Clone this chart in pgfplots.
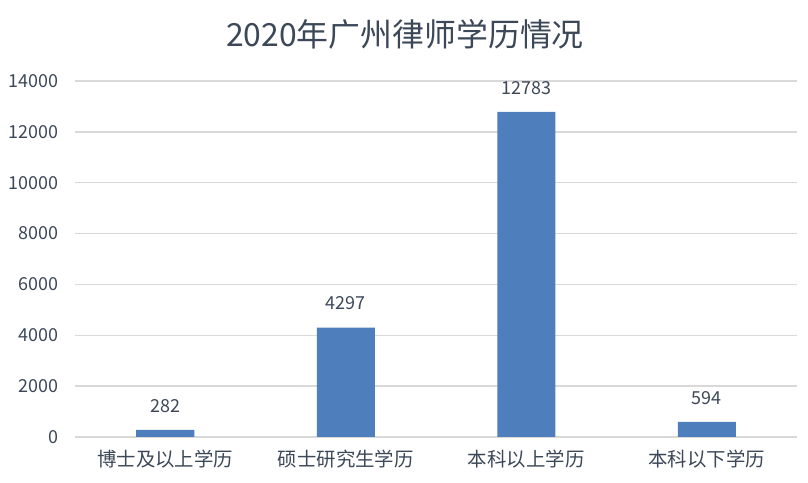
\documentclass[border=0pt]{standalone}
\usepackage{pgfplots}
\pgfplotsset{compat=1.18}
\usepackage{fontspec}
\setmainfont{Noto Sans CJK SC}
\definecolor{barblue}{HTML}{4E7EBB}
\definecolor{txt}{HTML}{3C4858}
\definecolor{gridgray}{HTML}{D9D9D9}
\begin{document}
\begin{tikzpicture}[x=1bp,y=1bp]
\useasboundingbox (-75bp,-46bp) rectangle (733bp,437bp);
\begin{axis}[
  at={(0,0)}, anchor=south west,
  scale only axis, width=722bp, height=356bp,
  ybar, bar width=58bp,
  xmin=-0.5, xmax=3.5, ymin=0, ymax=14000,
  xtick={0,1,2,3},
  xticklabels={博士及以上学历,硕士研究生学历,本科以上学历,本科以下学历},
  ytick={0,2000,...,14000},
  /pgf/number format/assume math mode=true,
  /pgf/number format/1000 sep={},
  scaled y ticks=false,
  ymajorgrids, major grid style={gridgray, line width=1.3pt},
  axis line style={draw=none},
  major tick length=0pt,
  tick label style={font=\fontsize{18}{20}\selectfont, text=txt},
  yticklabel style={xshift=-13bp},
  xticklabel style={yshift=-9bp, font=\fontsize{19.5}{22}\selectfont},
  nodes near coords,
  nodes near coords style={font=\fontsize{18}{20}\selectfont, text=txt, yshift=14bp},
  clip=false,
]
\addplot[fill=barblue, draw=none] coordinates {(0,282) (1,4297) (2,12783) (3,594)};
\end{axis}
\node[text=txt, font=\fontsize{32}{36}\selectfont] at (330bp,403bp) {2020年广州律师学历情况};
\end{tikzpicture}
\end{document}
